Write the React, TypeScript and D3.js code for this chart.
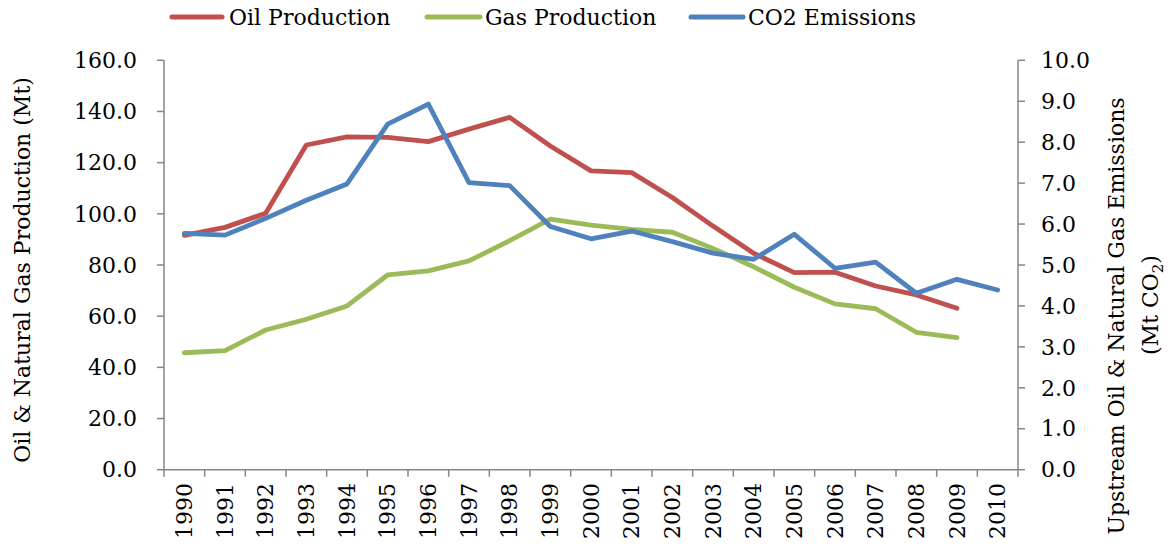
import React from "react";
import * as d3 from "d3";

const years = ["1990","1991","1992","1993","1994","1995","1996","1997","1998","1999","2000","2001","2002","2003","2004","2005","2006","2007","2008","2009","2010"];
const oilProduction = [91.6,94.7,100.2,126.9,130.1,129.9,128.2,133.1,137.7,126.5,116.8,116.1,106.4,95.2,84.6,77.0,77.2,71.8,68.3,63.1,null];
const gasProduction = [45.7,46.5,54.6,58.8,64.0,76.1,77.7,81.6,89.5,97.9,95.6,93.9,92.8,86.5,79.3,71.3,64.8,62.9,53.7,51.6,null];
const co2Emissions = [5.77,5.73,6.14,6.58,6.98,8.44,8.93,7.01,6.94,5.94,5.64,5.83,5.57,5.29,5.14,5.75,4.92,5.07,4.31,4.65,4.39];
const leftTicks = [0,20,40,60,80,100,120,140,160];
const rightTicks = [0,1,2,3,4,5,6,7,8,9,10];

const W = 1172, H = 551;
const FONT = "'DejaVu Serif', serif";
const AXIS = "#868686";
const RED = "#C0504D", GREEN = "#9BBB59", BLUE = "#4F81BD";

export default function App() {
  const x = d3.scaleBand<string>().domain(years).range([164, 1018]).padding(0);
  const yL = d3.scaleLinear().domain([0, 160]).range([469.7, 60.3]);
  const yR = d3.scaleLinear().domain([0, 10]).range([469.7, 60.3]);
  const cx = (i: number) => (x(years[i]) as number) + x.bandwidth() / 2;

  const lineL = d3.line<number | null>()
    .defined((d) => d !== null)
    .x((_, i) => cx(i))
    .y((d) => yL(d as number));
  const lineR = d3.line<number | null>()
    .defined((d) => d !== null)
    .x((_, i) => cx(i))
    .y((d) => yR(d as number));

  const boundaries = years.map((y) => x(y) as number).concat([1018]);
  const legend = [
    { label: "Oil Production", color: RED, x1: 172, x2: 222, tx: 229 },
    { label: "Gas Production", color: GREEN, x1: 427, x2: 480, tx: 485 },
    { label: "CO2 Emissions", color: BLUE, x1: 691, x2: 743, tx: 748 },
  ];

  return (
    <div style={{ position: "absolute", left: 0, top: 0 }}>
      <svg width={W} height={H} style={{ display: "block", background: "#fff" }} fontFamily={FONT}>
        {/* legend */}
        {legend.map((l) => (
          <g key={l.label}>
            <line x1={l.x1} x2={l.x2} y1={17} y2={17} stroke={l.color} strokeWidth={5} strokeLinecap="round" />
            <text x={l.tx} y={25} fontSize={22} fill="#000">{l.label}</text>
          </g>
        ))}

        {/* left axis */}
        <line x1={164} x2={164} y1={yL(160)} y2={yL(0)} stroke={AXIS} strokeWidth={1.5} />
        {leftTicks.map((t) => (
          <g key={"l" + t}>
            <line x1={157} x2={164} y1={yL(t)} y2={yL(t)} stroke={AXIS} strokeWidth={1.5} />
            <text x={137} y={yL(t)} dy="0.35em" textAnchor="end" fontSize={22} fill="#000">{d3.format(".1f")(t)}</text>
          </g>
        ))}

        {/* right axis */}
        <line x1={1018} x2={1018} y1={yR(10)} y2={yR(0)} stroke={AXIS} strokeWidth={1.5} />
        {rightTicks.map((t) => (
          <g key={"r" + t}>
            <line x1={1018} x2={1025} y1={yR(t)} y2={yR(t)} stroke={AXIS} strokeWidth={1.5} />
            <text x={1041} y={yR(t)} dy="0.35em" textAnchor="start" fontSize={22} fill="#000">{d3.format(".1f")(t)}</text>
          </g>
        ))}

        {/* x axis */}
        <line x1={164} x2={1018} y1={yL(0)} y2={yL(0)} stroke={AXIS} strokeWidth={1.5} />
        {boundaries.map((b, i) => (
          <line key={"xb" + i} x1={b} x2={b} y1={yL(0)} y2={yL(0) + 7} stroke={AXIS} strokeWidth={1.5} />
        ))}
        {years.map((yr, i) => (
          <text key={"xl" + yr} transform={`translate(${cx(i)},483) rotate(-90)`} dy="0.35em" textAnchor="end" fontSize={22} fill="#000">{yr}</text>
        ))}

        {/* axis titles */}
        <text transform="translate(22,270) rotate(-90)" dy="0.35em" textAnchor="middle" fontSize={22} fill="#000">Oil &amp; Natural Gas Production (Mt)</text>
        <text transform="translate(1116,316) rotate(-90)" dy="0.35em" textAnchor="middle" fontSize={22} fill="#000">Upstream Oil &amp; Natural Gas Emissions</text>
        <text transform="translate(1150,305) rotate(-90)" dy="0.35em" textAnchor="middle" fontSize={22} fill="#000">(Mt CO<tspan fontSize={15} dy="5">2</tspan><tspan dy="-5">)</tspan></text>

        {/* series */}
        <path d={lineL(oilProduction) || ""} fill="none" stroke={RED} strokeWidth={4.8} strokeLinejoin="round" strokeLinecap="round" />
        <path d={lineL(gasProduction) || ""} fill="none" stroke={GREEN} strokeWidth={4.8} strokeLinejoin="round" strokeLinecap="round" />
        <path d={lineR(co2Emissions) || ""} fill="none" stroke={BLUE} strokeWidth={4.8} strokeLinejoin="round" strokeLinecap="round" />
      </svg>
    </div>
  );
}
